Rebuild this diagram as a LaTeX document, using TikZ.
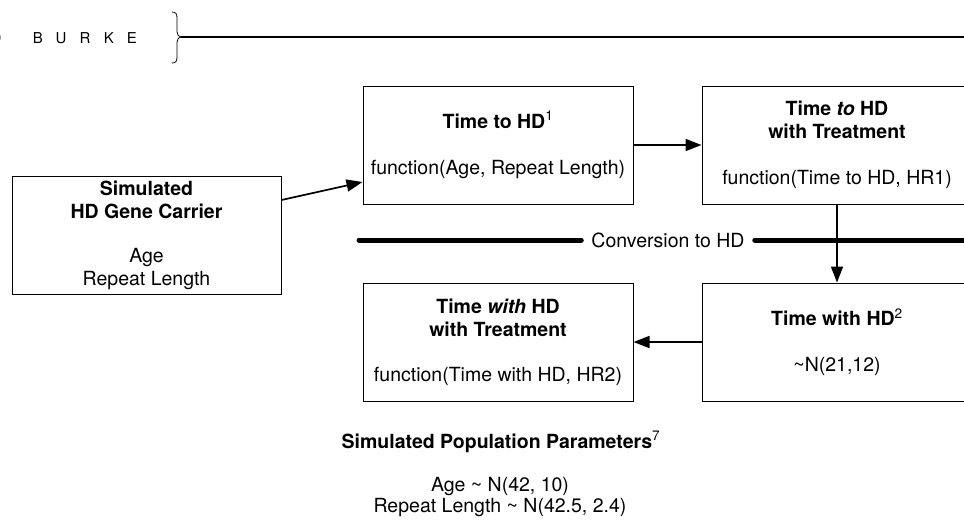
\documentclass[tikz,border=0pt]{standalone}
\usepackage{fontspec}
\setmainfont{TeX Gyre Heros}
\usetikzlibrary{arrows.meta}

\begin{document}
\begin{tikzpicture}[x=1pt, y=-1pt,
    box/.style={draw, line width=1pt, minimum width=270pt, minimum height=118pt,
      inner sep=0pt, align=center, font=\fontsize{19.5}{23}\selectfont},
    link/.style={line width=1.7pt, -{Triangle[length=16pt, width=12pt]}},
    txt/.style={align=center, font=\fontsize{19.5}{21}\selectfont}]
  \useasboundingbox (0,0) rectangle (964,520);

  % running head
  \foreach \ch/\xx in {D/-4, B/38, U/61, R/85, K/109, E/132}
    \node[font=\fontsize{15}{18}\selectfont] (head\ch) at (\xx,38) {\ch};
  \draw[line width=0.8pt] (172,12) .. controls (176,12) and (177,14) .. (177,18)
    -- (177,32) .. controls (177,35) and (179,37) .. (181,37)
    .. controls (179,37) and (177,39) .. (177,42) -- (177,57)
    .. controls (177,61) and (176,63) .. (172,63);
  \coordinate (bracetip) at (181,37);
  \coordinate (headend) at (964,37);
  \draw[line width=1.8pt] (bracetip) -- (headend);

  % boxes
  \node[box, minimum width=269pt] (carrier) at (146.5,235)
    {\textbf{Simulated}\\\textbf{HD Gene Carrier}\\[21pt]Age\\Repeat Length};
  \node[box] (tohd) at (498,145)
    {\textbf{Time to HD}\textsuperscript{1}\\[23pt]function(Age, Repeat Length)};
  \node[box] (tohdtx) at (837,145)
    {\textbf{Time \textit{to} HD}\\\textbf{with Treatment}\\[23pt]function(Time to HD, HR1)};
  \node[box] (withhd) at (837,342)
    {\textbf{Time with HD}\textsuperscript{2}\\[23pt]\textasciitilde N(21,12)};
  \node[box] (withhdtx) at (498,342)
    {\textbf{Time \textit{with} HD}\\\textbf{with Treatment}\\[22pt]function(Time with HD, HR2)};

  % conversion line
  \coordinate (convL) at (359,240);
  \coordinate (convR) at (975,240);
  \node[font=\fontsize{19.5}{23}\selectfont, inner xsep=10pt] (conv) at (668,240) {Conversion to HD};
  \draw[line width=5pt, line cap=round] (convL) -- (conv) -- (convR);

  % arrows
  \draw[link] ([yshift=35pt]carrier.east) -- ([yshift=-37pt]tohd.west);
  \draw[link] (tohd.east) -- (tohdtx.west);
  \draw[link] (tohdtx.south) -- (withhd.north);
  \draw[link] (withhd.west) -- (withhdtx.east);

  % parameters
  \node[txt] (params) at (501,442) {\textbf{Simulated Population Parameters}\textsuperscript{7}};
  \node[txt] (dists) at (500,497.5) {Age \textasciitilde{} N(42, 10)\\Repeat Length \textasciitilde{} N(42.5, 2.4)};
\end{tikzpicture}
\end{document}
